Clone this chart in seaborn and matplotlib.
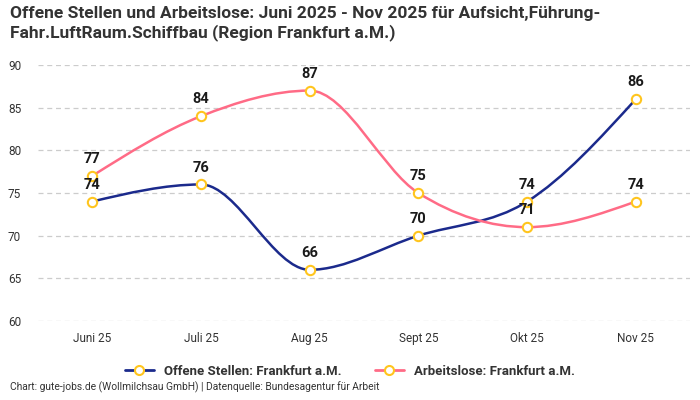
import numpy as np
import pandas as pd
import seaborn as sns
import matplotlib.pyplot as plt
from matplotlib.path import Path
from matplotlib.patches import PathPatch
from matplotlib.lines import Line2D
from matplotlib import font_manager

months = ["Juni 25", "Juli 25", "Aug 25", "Sept 25", "Okt 25", "Nov 25"]
offene_stellen = [74, 76, 66, 70, 74, 86]
arbeitslose = [77, 84, 87, 75, 71, 74]
series_names = ["Offene Stellen: Frankfurt a.M.", "Arbeitslose: Frankfurt a.M."]
series_colors = ["#1b2a8c", "#ff6b86"]

sns.set_theme(style="white")
names = {f.name for f in font_manager.fontManager.ttflist}
fam = "Liberation Sans Narrow" if "Liberation Sans Narrow" in names else "Roboto"
plt.rcParams["font.family"] = [fam, "DejaVu Sans"]


def monotone_path(xs, ys):
    # monotone cubic (like d3 curveMonotoneX) as bezier path in data space
    xs = np.asarray(xs, float)
    ys = np.asarray(ys, float)
    n = len(xs)
    h = np.diff(xs)
    s = np.diff(ys) / h
    t = np.zeros(n)
    for i in range(1, n - 1):
        p = (s[i - 1] * h[i] + s[i] * h[i - 1]) / (h[i - 1] + h[i])
        t[i] = (np.sign(s[i - 1]) + np.sign(s[i])) * min(abs(s[i - 1]), abs(s[i]), 0.5 * abs(p))
    t[0] = (3 * s[0] - t[1]) / 2
    t[-1] = (3 * s[-1] - t[-2]) / 2
    verts = [(xs[0], ys[0])]
    codes = [Path.MOVETO]
    for i in range(n - 1):
        d = h[i] / 3
        verts += [(xs[i] + d, ys[i] + d * t[i]),
                  (xs[i + 1] - d, ys[i + 1] - d * t[i + 1]),
                  (xs[i + 1], ys[i + 1])]
        codes += [Path.CURVE4] * 3
    return Path(verts, codes)


fig = plt.figure(figsize=(7, 4), dpi=100)
ax = fig.add_axes([0.054, 0.1975, 0.932, 0.64])

x = np.arange(len(months))
for vals, name, col in zip([offene_stellen, arbeitslose], series_names, series_colors):
    ax.add_patch(PathPatch(monotone_path(x, vals), facecolor="none", edgecolor=col, lw=1.8, zorder=3))
    df = pd.DataFrame({"x": x, "y": vals})
    sns.scatterplot(data=df, x="x", y="y", ax=ax, s=45, color="white",
                    edgecolor="#ffc51e", linewidth=1.5, zorder=4, legend=False)
    for xi, v in zip(x, vals):
        ax.annotate(str(v), (xi, v), xytext=(0, 7), textcoords="offset points",
                    ha="center", va="bottom", fontsize=10.5, fontweight="bold",
                    color="#1a1a1a", zorder=5)

ax.set_xlim(-0.5, 5.5)
ax.set_ylim(60, 90)
ax.set_yticks(range(60, 91, 5))
ax.set_xticks(x)
ax.set_xticklabels(months)
ax.set_xlabel("")
ax.set_ylabel("")
ax.grid(axis="y", color="#cccccc", linestyle=(0, (4, 3)), lw=0.9)
ax.grid(axis="x", visible=False)
for sp in ax.spines.values():
    sp.set_visible(False)
ax.tick_params(axis="both", length=0, labelsize=8.5, colors="#333333")
ax.tick_params(axis="y", pad=12)
ax.tick_params(axis="x", pad=8)

handles = [Line2D([0], [0], color=c, lw=2, marker="o", markersize=6.5,
                  markerfacecolor="white", markeredgecolor="#ffc51e", markeredgewidth=1.5)
           for c in series_colors]
leg = fig.legend(handles, series_names, loc="center", bbox_to_anchor=(0.5, 0.072),
                 ncol=2, frameon=False, handlelength=2.2, columnspacing=2.5,
                 prop={"weight": "bold", "size": 9.5})
for t in leg.get_texts():
    t.set_color("#333333")

fig.text(0.014, 0.985, "Offene Stellen und Arbeitslose: Juni 2025 - Nov 2025 für Aufsicht,Führung-\n"
         "Fahr.LuftRaum.Schiffbau (Region Frankfurt a.M.)",
         ha="left", va="top", fontsize=12.5, fontweight="bold", color="#333333", linespacing=1.25)
fig.text(0.014, 0.018, "Chart: gute-jobs.de (Wollmilchsau GmbH) | Datenquelle: Bundesagentur für Arbeit",
         ha="left", va="bottom", fontsize=7.4, color="#333333")

fig.savefig("out.png", dpi=100)
